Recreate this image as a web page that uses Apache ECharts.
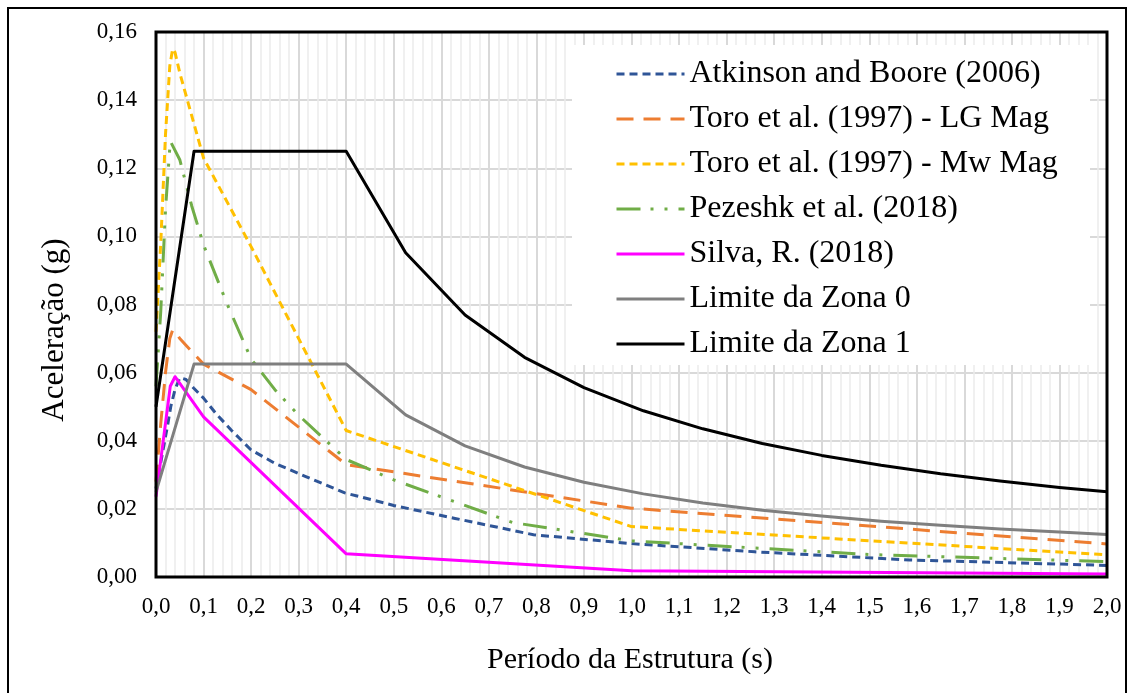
<!DOCTYPE html>
<html>
<head>
<meta charset="utf-8">
<script src="https://cdn.jsdelivr.net/npm/echarts@6/dist/echarts.min.js"></script>
<style>
  html, body { margin: 0; padding: 0; background: #fff; }
  #chart { width: 1134px; height: 693px; }
</style>
</head>
<body>
<div id="chart"></div>
<script>
// Tick labels (decimal comma)
const xTickLabels = ['0,0','0,1','0,2','0,3','0,4','0,5','0,6','0,7','0,8','0,9','1,0',
                     '1,1','1,2','1,3','1,4','1,5','1,6','1,7','1,8','1,9','2,0'];
const yTickLabels = ['0,00','0,02','0,04','0,06','0,08','0,10','0,12','0,14','0,16'];

// Atkinson and Boore (2006): period (s) and spectral acceleration (g)
const abT  = [0, 0.025, 0.031, 0.04, 0.05, 0.063, 0.079, 0.1, 0.126, 0.159, 0.2, 0.251, 0.315, 0.397, 0.5, 0.629, 0.794, 1.0, 1.259, 1.585, 2.0];
const abSa = [0.026, 0.045, 0.050, 0.055, 0.0585, 0.058, 0.0555, 0.0525, 0.048, 0.0430, 0.0373, 0.0333, 0.0295, 0.0247, 0.0210, 0.0172, 0.0124, 0.0098, 0.0074, 0.0050, 0.0034];

// Toro et al. (1997), LG and Mw magnitudes
const toroT    = [0, 0.01, 0.02, 0.029, 0.035, 0.04, 0.05, 0.1, 0.2, 0.4, 1.0, 2.0];
const toroLgSa = [0.028, 0.045, 0.060, 0.070, 0.0725, 0.0722, 0.070, 0.0625, 0.055, 0.033, 0.0202, 0.0097];
const toroMwSa = [0.072, 0.098, 0.130, 0.150, 0.155, 0.154, 0.148, 0.123, 0.097, 0.043, 0.0148, 0.0065];

// Pezeshk et al. (2018)
const pezT  = [0, 0.01, 0.02, 0.03, 0.05, 0.075, 0.1, 0.15, 0.2, 0.25, 0.3, 0.4, 0.5, 0.75, 1.0, 1.5, 2.0];
const pezSa = [0.056, 0.078, 0.108, 0.128, 0.1225, 0.109, 0.0975, 0.080, 0.064, 0.055, 0.0475, 0.0345, 0.0285, 0.016, 0.0106, 0.0066, 0.0045];

// Silva, R. (2018)
const silvaT  = [0, 0.03, 0.04, 0.1, 0.4, 1.0, 2.0];
const silvaSa = [0.0236, 0.056, 0.0588, 0.047, 0.0068, 0.0018, 0.0009];

// Design spectra limits, zones 0 and 1
const zonaT   = [0, 0.08, 0.4, 0.525, 0.65, 0.775, 0.9, 1.025, 1.15, 1.275, 1.4, 1.525, 1.65, 1.775, 1.9, 2.0];
const zona0Sa = [0.025, 0.0625, 0.0625, 0.0476, 0.0385, 0.0323, 0.0278, 0.0244, 0.0217, 0.0196, 0.0179, 0.0164, 0.0152, 0.0141, 0.0132, 0.0125];
const zona1Sa = [0.05, 0.125, 0.125, 0.0952, 0.0769, 0.0645, 0.0556, 0.0488, 0.0435, 0.0392, 0.0357, 0.0328, 0.0303, 0.0282, 0.0263, 0.025];

const pairs = (xs, ys) => xs.map((x, i) => [x, ys[i]]);
const FONT = '"Liberation Serif", "Times New Roman", serif';

function lineSeries(name, xs, ys, color, dash) {
  return {
    name: name,
    type: 'line',
    data: pairs(xs, ys),
    symbol: 'none',
    showSymbol: false,
    smooth: false,
    z: 2,
    itemStyle: { color: color },
    lineStyle: { color: color, width: 3, type: dash, cap: 'butt', join: 'round' }
  };
}

const chart = echarts.init(document.getElementById('chart'), null, { renderer: 'canvas' });
chart.setOption({
  animation: false,
  backgroundColor: '#ffffff',
  grid: { left: 156, top: 32, width: 951, height: 545, containLabel: false },
  xAxis: {
    type: 'value', min: 0, max: 2, interval: 0.1,
    axisLine: { show: false }, axisTick: { show: false },
    axisLabel: {
      margin: 18, color: '#000', fontFamily: FONT, fontSize: 23,
      formatter: v => xTickLabels[Math.round(v / 0.1)]
    },
    splitLine: { show: true, lineStyle: { color: '#d9d9d9', width: 2 } },
    minorTick: { show: false, splitNumber: 5 },
    minorSplitLine: { show: true, lineStyle: { color: '#ececec', width: 1.5 } }
  },
  yAxis: {
    type: 'value', min: 0, max: 0.16, interval: 0.02,
    axisLine: { show: false }, axisTick: { show: false },
    axisLabel: {
      margin: 19, color: '#000', fontFamily: FONT, fontSize: 23,
      formatter: v => yTickLabels[Math.round(v / 0.02)]
    },
    splitLine: { show: true, lineStyle: { color: '#d9d9d9', width: 2 } }
  },
  legend: {
    orient: 'vertical', left: 610, top: 52, z: 6,
    itemWidth: 68, itemHeight: 20, itemGap: 11,
    itemStyle: { opacity: 0, borderWidth: 0 },
    lineStyle: { width: 3 },
    textStyle: { fontFamily: FONT, fontSize: 32, color: '#000', lineHeight: 34, padding: [0, 0, 0, 0] },
    data: ['Atkinson and Boore (2006)', 'Toro et al. (1997) - LG Mag', 'Toro et al. (1997) - Mw Mag',
           'Pezeshk et al. (2018)', 'Silva, R. (2018)', 'Limite da Zona 0', 'Limite da Zona 1']
  },
  graphic: [
    { type: 'rect', z: 3, shape: { x: 572, y: 45, width: 518, height: 320 },
      style: { fill: '#ffffff', stroke: null } },
    { type: 'rect', z: 10, shape: { x: 156, y: 32, width: 951, height: 545 },
      style: { fill: 'none', stroke: '#000', lineWidth: 3 } },
    { type: 'rect', z: 10, shape: { x: 8, y: 8, width: 1118, height: 700 },
      style: { fill: 'none', stroke: '#000', lineWidth: 2 } },
    { type: 'text', z: 10, x: 55, y: 330, rotation: Math.PI / 2,
      style: { text: 'Aceleração (g)', font: '31px ' + FONT, fill: '#000',
               textAlign: 'center', textVerticalAlign: 'middle' } },
    { type: 'text', z: 10, x: 630, y: 660,
      style: { text: 'Período da Estrutura (s)', font: '30px ' + FONT, fill: '#000',
               textAlign: 'center', textVerticalAlign: 'middle' } }
  ],
  series: [
    lineSeries('Atkinson and Boore (2006)', abT, abSa, '#2F5597', [8, 5]),
    lineSeries('Toro et al. (1997) - LG Mag', toroT, toroLgSa, '#ED7D31', [17, 10]),
    lineSeries('Toro et al. (1997) - Mw Mag', toroT, toroMwSa, '#FFC000', [8, 5]),
    lineSeries('Pezeshk et al. (2018)', pezT, pezSa, '#70AD47', [24, 10, 3, 11, 3, 11]),
    lineSeries('Silva, R. (2018)', silvaT, silvaSa, '#FF00FF', 'solid'),
    lineSeries('Limite da Zona 0', zonaT, zona0Sa, '#7F7F7F', 'solid'),
    lineSeries('Limite da Zona 1', zonaT, zona1Sa, '#000000', 'solid')
  ]
});
</script>
</body>
</html>
